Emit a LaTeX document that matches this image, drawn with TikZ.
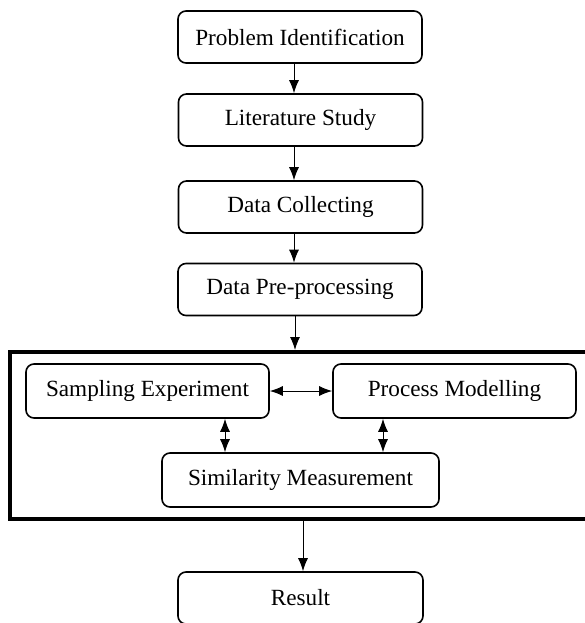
\documentclass[tikz,border=0pt]{standalone}
\usepackage{fontspec}
\setmainfont{Liberation Serif}
\usetikzlibrary{arrows.meta}

\begin{document}
\begin{tikzpicture}[x=0.5pt, y=-0.5pt, font=\fontsize{11.6}{13}\selectfont,
    box/.style={draw, line width=0.8pt, rounded corners=4pt, inner sep=0pt, minimum width=122pt, minimum height=26pt},
    link/.style={-{Latex[length=6.5pt, width=5pt]}, line width=0.5pt},
    dlink/.style={{Latex[length=6.5pt, width=5pt]}-{Latex[length=6.5pt, width=5pt]}, line width=0.5pt}]
      \useasboundingbox (0, 0) rectangle (585, 623);
      % steps down the page
      \node[box] (n1) at (300, 37) {Problem Identification};
      \node[box] (n2) at (300.5, 120) {Literature Study};
      \node[box] (n3) at (300.5, 207) {Data Collecting};
      \node[box] (n4) at (300, 289.5) {Data Pre-processing};
      % experiment block
      \node[draw, line width=2pt, inner sep=0pt, minimum width=295pt, minimum height=83.5pt] (fr) at (305, 435.5) {};
      \node[box, minimum width=121.5pt, minimum height=27pt] (n5) at (147.5, 391) {Sampling Experiment};
      \node[box, minimum width=121.5pt, minimum height=27pt] (n6) at (454.5, 391) {Process Modelling};
      \node[box, minimum width=138.5pt, minimum height=27pt] (n7) at (300.5, 480) {Similarity Measurement};
      \node[box, minimum width=122.5pt] (n8) at (300.5, 598) {Result};
      \coordinate (t1) at ([xshift=-3pt]n1.south);
      \coordinate (t4) at ([xshift=-2.5pt]n4.south);
      \coordinate (t5) at ([xshift=38.75pt]n5.south);
      \coordinate (t6) at ([xshift=-35.75pt]n6.south);
      \coordinate (t8) at ([xshift=1.25pt]n8.north);
      \draw[link] (t1) -- (t1 |- n2.north);
      \draw[link] (t1 |- n2.south) -- (t1 |- n3.north);
      \draw[link] (t1 |- n3.south) -- (t1 |- n4.north);
      \draw[link] (t4) -- (t4 |- fr.north);
      \draw[dlink] (n5.east) -- (n6.west);
      \draw[dlink] (t5) -- (t5 |- n7.north);
      \draw[dlink] (t6) -- (t6 |- n7.north);
      \draw[link] (t8 |- fr.south) -- (t8);
\end{tikzpicture}
\end{document}
